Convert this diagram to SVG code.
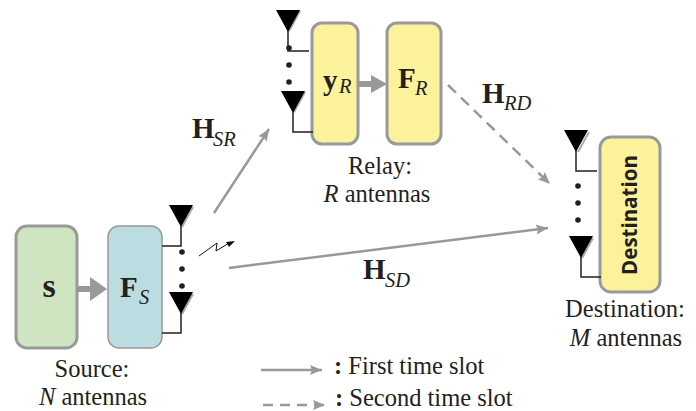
<svg xmlns="http://www.w3.org/2000/svg" width="696" height="411" viewBox="0 0 696 411">
<style>
text{font-family:"Liberation Serif",serif;fill:#231f20}
.lab{font-size:24.5px}
.sym{font-size:29px;font-weight:bold}
.sub{font-size:20.5px;font-style:italic}
.box{stroke:#999;stroke-width:3}
.ant{fill:#000}
.shadow{fill:none;stroke:#aaa;stroke-width:2}
.wire{fill:none;stroke:#231f20;stroke-width:1.5}
.conn{fill:none;stroke:#999;stroke-width:2.5}
.dot{fill:#231f20}
</style>
<defs>
<marker id="a" markerUnits="userSpaceOnUse" markerWidth="14" markerHeight="12" refX="12" refY="5" orient="auto"><path d="M0 0L12 5L0 10L2 5Z" fill="#999"/></marker>
</defs>
<g id="connectors">
<path class="conn" d="M214 213L269 129" marker-end="url(#a)"/>
<path class="conn" d="M229 268L548 228" marker-end="url(#a)"/>
<path class="conn" d="M448 85L550 184" stroke-dasharray="11 7" marker-end="url(#a)"/>
<path d="M78 289H92" stroke="#999" stroke-width="6" fill="none"/><path d="M90 277L107 289L90 301Z" fill="#999"/>
<path d="M358 84H372" stroke="#999" stroke-width="6" fill="none"/><path d="M371 75L387 84L371 93Z" fill="#999"/>
<path d="M199 256L217 243L216 251L229 243" fill="none" stroke="#111" stroke-width="1"/><path d="M235 241L226 242L229 247Z" fill="#111"/>
<path class="conn" d="M261 370H322" marker-end="url(#a)"/>
<path class="conn" d="M263 405H325" stroke-dasharray="10 7" marker-end="url(#a)"/>
</g>
<g id="node-s"><rect class="box" x="16" y="226" width="61" height="122" rx="11" fill="#cfe5c2"/><text x="49" y="297" text-anchor="middle" style="font-size:34px;font-weight:bold">s</text></g>
<g id="node-fs"><rect x="108" y="226" width="54" height="122" rx="11" fill="#bbdde2" stroke="#999" stroke-width="1.5"/><text class="sym" x="120" y="297">F</text><text class="sub" x="139" y="304">S</text></g>
<g id="antennas-s">
<path class="shadow" d="M193 207L182 227"/>
<path class="ant" d="M169 205H193L181 227Z"/>
<path class="wire" d="M181 226V246H162"/>
<circle class="dot" cx="182" cy="252" r="2.8"/><circle class="dot" cx="182" cy="269" r="2.8"/><circle class="dot" cx="182" cy="286" r="2.8"/>
<path class="shadow" d="M193 294L182 314"/>
<path class="ant" d="M169 292H193L181 314Z"/>
<path class="wire" d="M181 312V333H162"/>
</g>
<g id="node-yr"><rect class="box" x="312" y="23" width="46" height="121" rx="10" fill="#fbf29b"/><text class="sym" x="323" y="90">y</text><text class="sub" x="339" y="93">R</text></g>
<g id="node-fr"><rect class="box" x="387" y="23" width="54" height="121" rx="10" fill="#fbf29b"/><text class="sym" x="398" y="88">F</text><text class="sub" x="415" y="95">R</text></g>
<g id="antennas-r">
<path class="shadow" d="M300 11L289 31"/>
<path class="ant" d="M276 10H300L288 32Z"/>
<path class="wire" d="M288 30V51H309"/>
<circle class="dot" cx="289" cy="48" r="2.8"/><circle class="dot" cx="289" cy="65" r="2.8"/><circle class="dot" cx="289" cy="82" r="2.8"/>
<path class="shadow" d="M305 92L294 112"/>
<path class="ant" d="M281 91H305L293 113Z"/>
<path class="wire" d="M293 111V132H313"/>
</g>
<g id="node-dest"><rect class="box" x="600" y="137" width="60" height="155" rx="11" fill="#fbf29b"/><text x="637" y="215" transform="rotate(-90 637 215)" text-anchor="middle" style="font-family:'Open Sans','Liberation Sans',sans-serif;font-size:20.5px;font-weight:bold">Destination</text></g>
<g id="antennas-d">
<path class="shadow" d="M589 132L578 152"/>
<path class="ant" d="M564 130H588L576 152Z"/>
<path class="wire" d="M576 150V171H597"/>
<circle class="dot" cx="578" cy="186" r="2.8"/><circle class="dot" cx="578" cy="203" r="2.8"/><circle class="dot" cx="578" cy="220" r="2.8"/>
<path class="shadow" d="M593 238L582 258"/>
<path class="ant" d="M569 236H593L581 258Z"/>
<path class="wire" d="M581 256V277H601"/>
</g>
<g id="labels">
<text class="sym" x="192" y="138">H</text><text class="sub" x="213" y="146">SR</text>
<text class="sym" x="482" y="103">H</text><text class="sub" x="504" y="110">RD</text>
<text class="sym" x="363" y="279">H</text><text class="sub" x="385" y="287">SD</text>
<text class="lab" x="92" y="377" text-anchor="middle">Source:</text>
<text class="lab" x="93" y="405" text-anchor="middle"><tspan font-style="italic">N</tspan> antennas</text>
<text class="lab" x="380" y="174" text-anchor="middle">Relay:</text>
<text class="lab" x="377" y="202" text-anchor="middle"><tspan font-style="italic">R</tspan> antennas</text>
<text class="lab" x="625" y="317" text-anchor="middle">Destination:</text>
<text class="lab" x="626" y="346" text-anchor="middle"><tspan font-style="italic">M</tspan> antennas</text>
<text class="lab" x="334" y="374"><tspan font-weight="bold">:</tspan> First time slot</text>
<text class="lab" x="335" y="405.5"><tspan font-weight="bold">:</tspan> Second time slot</text>
</g>
</svg>
